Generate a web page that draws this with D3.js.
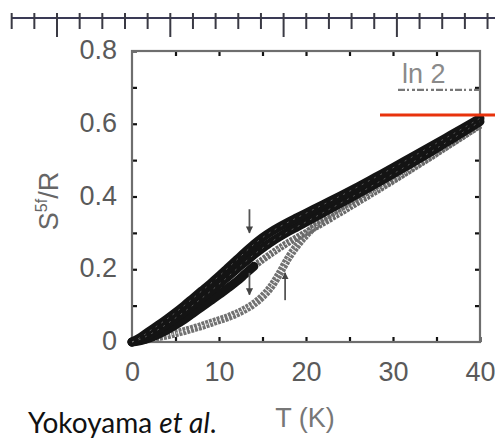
<!DOCTYPE html>
<html>
<head>
<meta charset="utf-8">
<script src="https://cdn.jsdelivr.net/npm/d3@7"></script>
<style>
  html, body { margin: 0; padding: 0; background: #fff; }
  svg { display: block; }
</style>
</head>
<body>
<svg id="chart" width="495" height="441"></svg>
<script>
// Entropy of the 5f electrons, S/R, against temperature T (K)
const xTickLabels = [0, 10, 20, 30, 40];
const yTickLabels = [0, 0.2, 0.4, 0.6, 0.8];

// Upper band: three nearly coincident runs
const tBand = [0,1,2,3,4,5,6,7,8,9,10,11,12,13,14,15,16,17,18,19,20,22,24,26,28,30,32,34,36,38,40];
const sBandTop = [0,0.013,0.03,0.046,0.063,0.081,0.1,0.12,0.14,0.16,0.181,0.203,0.225,0.247,0.268,0.287,0.303,0.317,0.33,0.342,0.354,0.378,0.402,0.427,0.453,0.479,0.506,0.533,0.56,0.587,0.615];
const sBandMid = [0,0.008,0.02,0.034,0.049,0.066,0.083,0.101,0.12,0.139,0.159,0.179,0.2,0.22,0.24,0.258,0.275,0.29,0.304,0.317,0.33,0.356,0.382,0.408,0.435,0.462,0.49,0.518,0.547,0.576,0.606];
const sBandLow = [0,0.004,0.011,0.021,0.033,0.047,0.062,0.079,0.096,0.113,0.13,0.148,0.166,0.187,0.208,0.226,0.243,0.259,0.274,0.288,0.301,0.328,0.356,0.385,0.414,0.443,0.473,0.503,0.534,0.565,0.597];

// Lower loop branch
const tLoop = [0,1,2,3,4,5,6,7,8,9,10,11,12,13,14,15,16,17,18,19,20,21,22,23,24,26,28,30,32,34,36,38,40];
const sLoop = [0,0.004,0.008,0.013,0.018,0.024,0.03,0.037,0.044,0.052,0.06,0.068,0.078,0.09,0.105,0.125,0.152,0.19,0.232,0.266,0.294,0.318,0.338,0.355,0.37,0.395,0.42,0.448,0.477,0.507,0.537,0.567,0.597];

// Field-direction arrows (T, S from, S to)
const arrowT = [13.5, 13.5, 17.6];
const arrowFrom = [0.365, 0.19, 0.115];
const arrowTo = [0.3, 0.13, 0.19];

const LN2 = Math.log(2);

const svg = d3.select("#chart");
const x = d3.scaleLinear().domain([0, 40]).range([132, 480]);
const y = d3.scaleLinear().domain([0, 0.8]).range([342, 51]);

// Ruler strip across the top
const ruler = d3.scaleLinear().domain([-2, 19.5]).range([57 - 2 * 22.66, 57 + 19.5 * 22.66]);
const rulerG = svg.append("g");
rulerG.append("line")
  .attr("x1", 12).attr("x2", 495).attr("y1", 18).attr("y2", 18)
  .attr("stroke", "#3a3a55").attr("stroke-width", 2.2);
rulerG.selectAll("line.rt").data(d3.range(-2, 20)).join("line")
  .attr("class", "rt")
  .attr("x1", d => ruler(d)).attr("x2", d => ruler(d))
  .attr("y1", 13).attr("y2", d => (d % 5 === 0 ? 37 : 29))
  .attr("stroke", "#3a3a44").attr("stroke-width", 2);

// Axes with inward ticks
const fontTicks = "'Liberation Sans', Arial, sans-serif";
const axisBottomG = svg.append("g").attr("transform", "translate(0,342)")
  .call(d3.axisBottom(x).tickValues(d3.range(0, 41, 5)).tickSize(-5).tickPadding(20)
    .tickFormat(d => (xTickLabels.includes(d) ? String(d) : "")));
const axisTopG = svg.append("g").attr("transform", "translate(0,51)")
  .call(d3.axisTop(x).tickValues(d3.range(5, 40, 5)).tickSize(-5).tickFormat(""));
const axisLeftG = svg.append("g").attr("transform", "translate(132,0)")
  .call(d3.axisLeft(y).tickValues(d3.range(0, 9).map(i => i / 10)).tickSize(-5).tickPadding(15)
    .tickFormat(d => {
      const v = Math.round(d * 10) / 10;
      return yTickLabels.includes(v) ? (v === 0 ? "0" : v.toFixed(1)) : "";
    }));
const axisRightG = svg.append("g").attr("transform", "translate(480,0)")
  .call(d3.axisRight(y).tickValues(d3.range(1, 8).map(i => i / 10)).tickSize(-5).tickFormat(""));

[axisBottomG, axisTopG, axisLeftG, axisRightG].forEach(g => {
  g.select(".domain").remove();
  g.selectAll(".tick line").attr("stroke", "#111").attr("stroke-width", 2.2);
  g.selectAll(".tick text").attr("fill", "#5a5a5a")
    .style("font-family", fontTicks).style("font-size", "27px");
});
axisLeftG.selectAll(".tick text").attr("dy", "0.28em");

// Plot frame
svg.append("rect")
  .attr("x", x(0)).attr("y", y(0.8))
  .attr("width", x(40) - x(0)).attr("height", y(0) - y(0.8))
  .attr("fill", "none").attr("stroke", "#6e6e6e").attr("stroke-width", 2.2);

// ln 2 reference level
svg.append("line")
  .attr("x1", 398).attr("x2", x(40)).attr("y1", y(LN2)).attr("y2", y(LN2))
  .attr("stroke", "#777").attr("stroke-width", 2.2).attr("stroke-dasharray", "7,2,2,3,3,2");
svg.append("text").attr("x", 402).attr("y", 83).text("ln 2")
  .attr("fill", "#8a8a8a").style("font-family", fontTicks).style("font-size", "27px");

// Data curves
const line = d3.line().x(d => x(d[0])).y(d => y(d[1])).curve(d3.curveMonotoneX);
const zip = (ts, ss) => ts.map((t, i) => [t, ss[i]]);
const plot = svg.append("g");

// lower loop: grey band of open markers
const loop = zip(tLoop, sLoop);
plot.append("path").attr("d", line(loop)).attr("fill", "none")
  .attr("stroke", "#727272").attr("stroke-width", 8).attr("stroke-dasharray", "3,1");
plot.append("path").attr("d", line(loop)).attr("fill", "none")
  .attr("stroke", "#fff").attr("stroke-width", 1.3).attr("stroke-dasharray", "1.5,3").attr("opacity", 0.75);

// lower edge of the upper band: black at low T, grey above
const low = zip(tBand, sBandLow);
plot.append("path").attr("d", line(low.filter(d => d[0] >= 13))).attr("fill", "none")
  .attr("stroke", "#6a6a6a").attr("stroke-width", 7).attr("stroke-dasharray", "3,1");
plot.append("path").attr("d", line(low.filter(d => d[0] >= 13))).attr("fill", "none")
  .attr("stroke", "#fff").attr("stroke-width", 1.2).attr("stroke-dasharray", "1.5,3").attr("opacity", 0.7);
plot.append("path").attr("d", line(low.filter(d => d[0] <= 14))).attr("fill", "none")
  .attr("stroke", "#141414").attr("stroke-width", 9).attr("stroke-linecap", "round");

[sBandMid, sBandTop].forEach(ss => {
  const pts = zip(tBand, ss);
  plot.append("path").attr("d", line(pts)).attr("fill", "none")
    .attr("stroke", "#141414").attr("stroke-width", 9).attr("stroke-linecap", "round");
});
[sBandMid, sBandTop].forEach(ss => {
  const pts = zip(tBand, ss);
  plot.append("path").attr("d", line(pts)).attr("fill", "none")
    .attr("stroke", "#aaa").attr("stroke-width", 0.9).attr("stroke-dasharray", "2,5").attr("opacity", 0.5);
});

// Arrows
const defs = svg.append("defs");
defs.append("marker").attr("id", "head").attr("viewBox", "0 0 10 10")
  .attr("refX", 9).attr("refY", 5).attr("markerWidth", 4).attr("markerHeight", 5)
  .attr("orient", "auto")
  .append("path").attr("d", "M0,0 L10,5 L0,10 Z").attr("fill", "#444");
svg.append("g").selectAll("line").data(arrowT).join("line")
  .attr("x1", d => x(d)).attr("x2", d => x(d))
  .attr("y1", (d, i) => y(arrowFrom[i])).attr("y2", (d, i) => y(arrowTo[i]))
  .attr("stroke", "#555").attr("stroke-width", 1.8).attr("marker-end", "url(#head)");

// Reference level line
svg.append("line")
  .attr("x1", 380).attr("x2", 495).attr("y1", 115).attr("y2", 115)
  .attr("stroke", "#e8320c").attr("stroke-width", 3);

// Axis titles
const yTitle = svg.append("text")
  .attr("transform", "translate(58,201) rotate(-90)")
  .attr("text-anchor", "middle").attr("fill", "#666")
  .style("font-family", fontTicks).style("font-size", "27px");
yTitle.append("tspan").text("S");
yTitle.append("tspan").text("5f").style("font-size", "16px").attr("dy", -11);
yTitle.append("tspan").text("/R").attr("dy", 11);

svg.append("text").attr("x", 305).attr("y", 427).attr("text-anchor", "middle")
  .attr("fill", "#777").style("font-family", fontTicks).style("font-size", "27px")
  .text("T (K)");

// Credit
const credit = svg.append("text").attr("x", 28).attr("y", 433)
  .attr("fill", "#111").style("font-family", "Lato, 'Noto Sans', sans-serif").style("font-size", "28px");
credit.append("tspan").text("Yokoyama ");
credit.append("tspan").text("et al").style("font-style", "italic");
credit.append("tspan").text(".");
</script>
</body>
</html>
